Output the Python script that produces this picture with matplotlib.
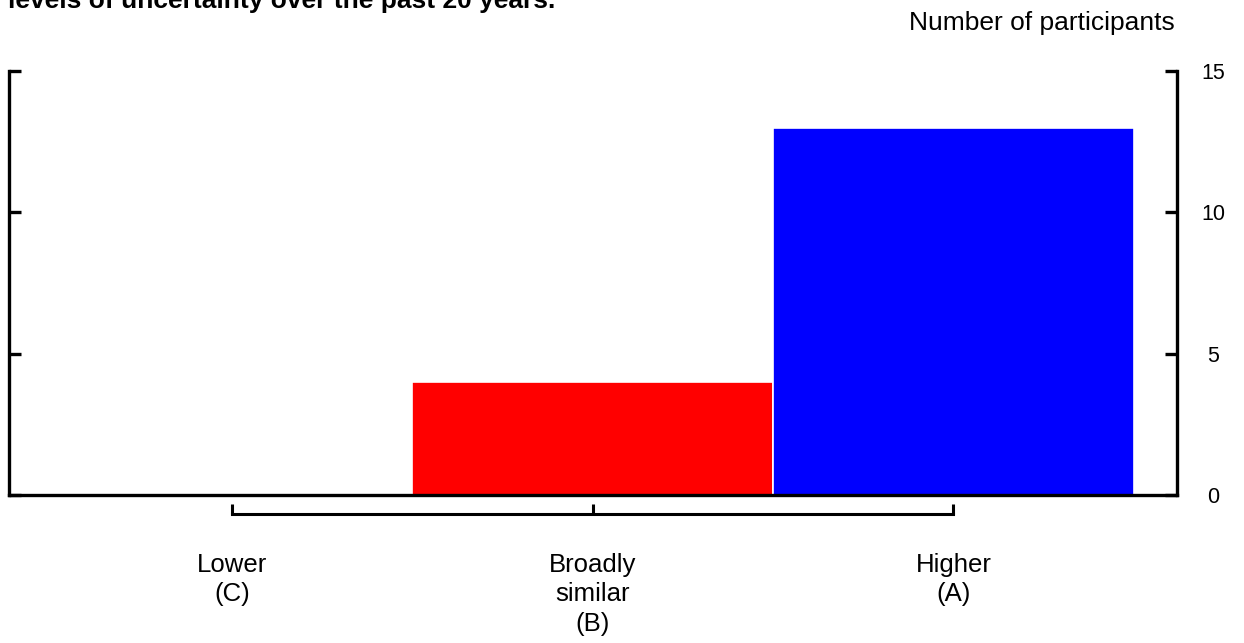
import matplotlib.pyplot as plt
import numpy as np

plt.rcParams['font.family'] = ['Liberation Sans', 'DejaVu Sans']

# data
categories = ['Lower\n(C)', 'Broadly\nsimilar\n(B)', 'Higher\n(A)']
participants = [0, 4, 13]
bar_colors = ['#ff0000', '#ff0000', '#0000ff']
y_ticks = [0, 5, 10, 15]

title = 'levels of uncertainty over the past 20 years.'
y_title = 'Number of participants'

fig = plt.figure(figsize=(12.44, 6.43), dpi=100)
ax = fig.add_axes([8.5 / 1244, 148 / 643, 1168.5 / 1244, 424 / 643])

x = np.arange(len(categories))
ax.bar(x, participants, width=1.0, color=bar_colors,
       edgecolor='white', linewidth=1.2, zorder=2)

ax.set_xlim(-0.62, 2.62)
ax.set_ylim(0, 15)

# secondary bottom axis drawn as a bracket below the plot
ax2 = ax.twiny()
ax2.set_xlim(ax.get_xlim())
ax2.xaxis.set_ticks_position('bottom')
ax2.spines['bottom'].set_position(('outward', 14))
ax2.spines['bottom'].set_bounds(0, 2)
ax2.spines['bottom'].set_linewidth(2.2)
for side in ['top', 'left', 'right']:
    ax2.spines[side].set_visible(False)
ax2.set_xticks(x)
ax2.set_xticklabels(categories, fontsize=18.5, linespacing=1.3)
ax2.tick_params(axis='x', direction='in', length=7, width=2.2, pad=27.5)

# main axis frame
ax.spines['top'].set_visible(False)
for side in ['left', 'right', 'bottom']:
    ax.spines[side].set_linewidth(2.4)
ax.set_xticks([])
ax.set_yticks(y_ticks)
ax.tick_params(axis='y', which='both', left=True, right=True,
               labelleft=False, labelright=True, direction='in',
               length=8.5, width=2.4, pad=26, labelsize=15.5)
for lab in ax.get_yticklabels():
    lab.set_horizontalalignment('center')

fig.text(1175 / 1244, 1 - 30 / 643, y_title, ha='right', va='baseline',
         fontsize=19)
fig.text(8 / 1244, 1 - 8 / 643, title, ha='left', va='baseline',
         fontsize=19, fontweight='bold')

fig.savefig('out.png', dpi=100)
